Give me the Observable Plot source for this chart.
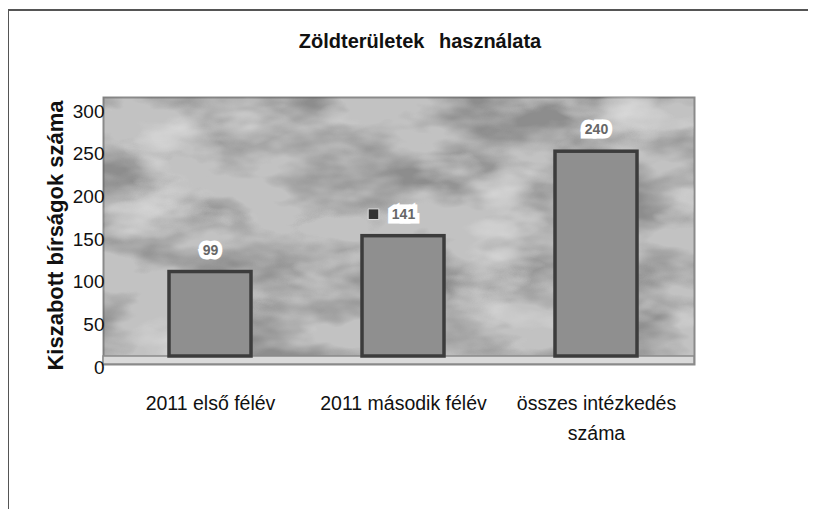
<!DOCTYPE html>
<html><head><meta charset="utf-8">
<script src="https://cdn.jsdelivr.net/npm/d3@7"></script>
<script src="https://cdn.jsdelivr.net/npm/@observablehq/plot@0.6"></script>
<style>
html,body{margin:0;padding:0;background:#fff;}
#wrap{position:relative;width:816px;height:509px;overflow:hidden;font-family:Arial,"Liberation Sans",sans-serif;}
#top{position:absolute;left:8px;top:9px;width:800px;height:0;border-top:2px solid #555;}
#left{position:absolute;left:8px;top:9px;width:0;height:500px;border-left:1.5px solid #555;}
#title{position:absolute;left:0;width:840px;top:31px;line-height:20px;text-align:center;font-weight:bold;font-size:20px;color:#111;word-spacing:9px;}
#chart{position:absolute;left:0;top:0;}
</style></head>
<body>
<div id="wrap"><div id="top"></div><div id="left"></div><div id="title">Zöldterületek használata</div><div id="chart"></div></div>
<script>
const categories = ["2011 első félév", "2011 második félév", "összes intézkedés száma"];
const tickText = ["2011 első félév", "2011 második félév", "összes intézkedés\nszáma"];
const values = [99, 141, 240];
const yTicks = [0, 50, 100, 150, 200, 250, 300];
const yLabel = "Kiszabott bírságok száma";

const data = categories.map((c, i) => ({cat: c, value: values[i], tick: tickText[i]}));

const plot = Plot.plot({
  width: 816,
  height: 509,
  marginLeft: 112,
  marginRight: 122,
  marginTop: 100,
  marginBottom: 153,
  style: {fontFamily: "Arial, 'Liberation Sans', sans-serif", background: "transparent", overflow: "visible"},
  x: {domain: categories, paddingInner: 0.577, paddingOuter: 0.29},
  y: {domain: [0, 300]},
  marks: [
    Plot.frame({fill: "#c2c2c2", stroke: "#8a8a8a", strokeWidth: 2, insetLeft: -9, insetRight: 0, insetTop: -3, insetBottom: -8}),
    Plot.barY(data, {x: "cat", y: "value", fill: "#8f8f8f", stroke: "#3c3c3c", strokeWidth: 3.5}),
    Plot.text(data, {x: "cat", y: "value", text: d => String(d.value), dy: -22, fill: "#666", stroke: "white", strokeWidth: 9, strokeLinejoin: "miter", fontSize: 14, fontWeight: "bold"}),
    Plot.dot(data.filter(d => d.value === values[1]), {x: "cat", y: "value", dy: -22, dx: -30, symbol: "square", r: 6, fill: "#333", stroke: "#ddd", strokeWidth: 1}),
    Plot.axisY({ticks: yTicks, tickSize: 0, tickPadding: 8, fontSize: 19, dy: 11, label: null}),
    Plot.text([yLabel], {frameAnchor: "left", textAnchor: "middle", rotate: -90, dx: -57, dy: 7, fontSize: 22, fontWeight: "bold", fill: "#111"}),
    Plot.axisX({tickSize: 0, tickPadding: 33, fontSize: 19.5, lineHeight: 1.5, tickFormat: c => tickText[categories.indexOf(c)], label: null})
  ]
});
document.getElementById("chart").appendChild(plot);

// decorative marble texture + floor strip
const svg = d3.select(plot);
const defs = svg.insert("defs", ":first-child");
const f = defs.append("filter").attr("id", "marble").attr("x", 0).attr("y", 0).attr("width", 1).attr("height", 1)
  .attr("color-interpolation-filters", "sRGB");
f.append("feTurbulence").attr("type", "fractalNoise").attr("baseFrequency", "0.009 0.02").attr("numOctaves", 4).attr("seed", 7).attr("result", "n");
f.append("feColorMatrix").attr("in", "n").attr("type", "matrix")
  .attr("values", "0 0 0 0 0.35  0 0 0 0 0.35  0 0 0 0 0.35  3.2 0 0 0 -1.25").attr("result", "dark");
f.append("feColorMatrix").attr("in", "n").attr("type", "matrix")
  .attr("values", "0 0 0 0 0.95  0 0 0 0 0.95  0 0 0 0 0.95  0 -3.2 0 0 1.35").attr("result", "light");
f.append("feMerge").call(m => { m.append("feMergeNode").attr("in", "dark"); m.append("feMergeNode").attr("in", "light"); });
const fr = svg.select("rect").node();
const bx = +fr.getAttribute("x"), by = +fr.getAttribute("y"), bw = +fr.getAttribute("width"), bh = +fr.getAttribute("height");
const tex = svg.insert("rect", () => fr.nextSibling)
  .attr("x", bx).attr("y", by).attr("width", bw).attr("height", bh)
  .attr("fill", "#fff").attr("filter", "url(#marble)").attr("opacity", 0.5);
const y0 = plot.scale("y").apply(0);
svg.insert("rect", () => tex.node().nextSibling)
  .attr("x", bx).attr("y", y0).attr("width", bw).attr("height", by + bh - y0)
  .attr("fill", "#dadada").attr("stroke", "#8a8a8a").attr("stroke-width", 1.5);
svg.selectAll("g[aria-label='x-axis tick label'] text, g[aria-label='y-axis tick label'] text").attr("fill", "#111");
</script>
</body></html>
